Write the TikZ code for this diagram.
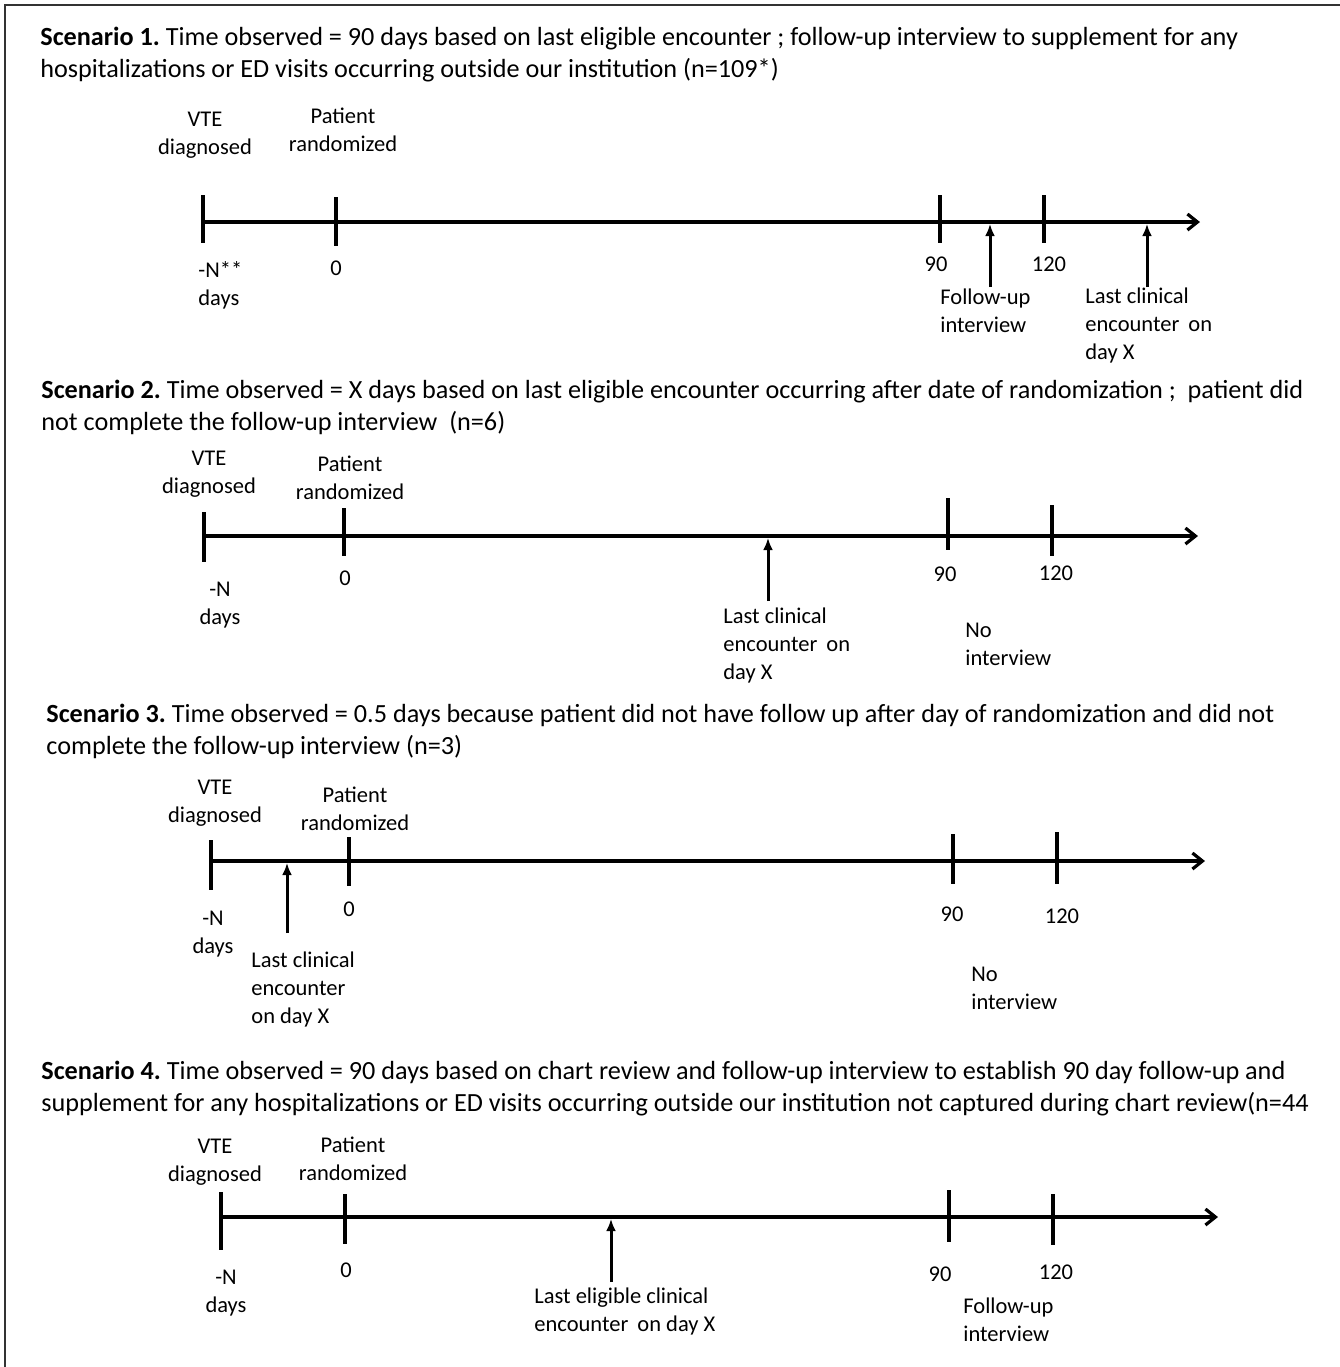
\documentclass[tikz,border=0pt]{standalone}
\usepackage{fontspec}
\setmainfont{Carlito}
\usetikzlibrary{arrows.meta}
\frenchspacing

\begin{document}
\begin{tikzpicture}[x=0.5pt,y=-0.5pt,
  axis/.style={line width=1.6pt,-{Straight Barb[length=5pt,width=8pt,line width=1.6pt]}},
  tick/.style={line width=1.6pt},
  uparrow/.style={line width=1.5pt,-{Latex[length=6pt,width=5pt]}},
  title/.style={anchor=west,align=left,inner sep=0pt,font=\fontsize{13.1}{16}\selectfont},
  lbl/.style={inner sep=0pt,align=center,font=\fontsize{11.25}{14}\selectfont},
  lbll/.style={lbl,anchor=west,align=left}]
\useasboundingbox (0,0) rectangle (1340,1367);
\draw[line width=0.9pt,black!80] (5,1367)--(5,5)--(1340,5);

\node[title] (t1) at (40,55) {\textbf{Scenario 1.} Time observed = 90 days based on last eligible encounter ; follow-up interview to supplement for any\\hospitalizations or ED visits occurring outside our institution (n=109*)};
\node[lbl] (v1) at (205,135) {VTE\\diagnosed};
\node[lbl] (p1) at (343,130) {Patient\\randomized};
\coordinate (a1) at (203,222);
\coordinate (e1) at (1200,222);
\draw[axis] (a1) -- (e1);
\draw[tick] (203,195) -- (203,243);
\draw[tick] (336,197) -- (336,246);
\draw[tick] (940,195) -- (940,243);
\draw[tick] (1044,195) -- (1044,243);
\node[lbll] (n1) at (198,285) {-N**\\days};
\node[lbl] (z1) at (336,268) {0};
\node[lbl] (k1) at (936,264) {90};
\node[lbl] (h1) at (1049,264) {120};
\coordinate (fb1) at (990,287);
\coordinate (ft1) at (990,224);
\draw[uparrow] (fb1) -- (ft1);
\coordinate (lb1) at (1147,287);
\coordinate (lt1) at (1147,224);
\draw[uparrow] (lb1) -- (lt1);
\node[lbll] (f1) at (940,311) {Follow-up\\interview};
\node[lbll] (l1) at (1085,325) {Last clinical\\encounter\kern2pt\ on\\day X};

\node[title] (t2) at (41,407) {\textbf{Scenario 2.} Time observed = X days based on last eligible encounter occurring after date of randomization ;\ \ patient did\\not complete the follow-up interview\ \ (n=6)};
\node[lbl] (v2) at (209,474) {VTE\\diagnosed};
\node[lbl] (p2) at (350,478) {Patient\\randomized};
\coordinate (a2) at (204,536);
\coordinate (e2) at (1198,536);
\draw[axis] (a2) -- (e2);
\draw[tick] (204,512) -- (204,562);
\draw[tick] (344,508) -- (344,556);
\draw[tick] (948,498) -- (948,550);
\draw[tick] (1052,505) -- (1052,556);
\node[lbl] (n2) at (220,605) {-N\\days};
\node[lbl] (z2) at (345,578) {0};
\node[lbl] (k2) at (945,574) {90};
\node[lbl] (h2) at (1056,573) {120};
\coordinate (lb2) at (768,601);
\coordinate (lt2) at (768,538);
\draw[uparrow] (lb2) -- (lt2);
\node[lbll] (l2) at (723,645) {Last clinical\\encounter\kern2pt\ on\\day X};
\node[lbll] (o2) at (965,644) {No\\interview};

\node[title] (t3) at (46,731) {\textbf{Scenario 3.} Time observed = 0.5 days because patient did not have follow up after day of randomization and did not\\complete the follow-up interview (n=3)};
\node[lbl] (v3) at (215,803) {VTE\\diagnosed};
\node[lbl] (p3) at (355,809) {Patient\\randomized};
\coordinate (a3) at (211,861);
\coordinate (e3) at (1205,861);
\draw[axis] (a3) -- (e3);
\draw[tick] (211,840) -- (211,890);
\draw[tick] (349,837) -- (349,886);
\draw[tick] (953,834) -- (953,884);
\draw[tick] (1057,832) -- (1057,884);
\node[lbl] (n3) at (213,934) {-N\\days};
\node[lbl] (z3) at (349,909) {0};
\node[lbl] (k3) at (952,914) {90};
\node[lbl] (h3) at (1062,916) {120};
\coordinate (lb3) at (287,933);
\coordinate (lt3) at (287,863);
\draw[uparrow] (lb3) -- (lt3);
\node[lbll] (l3) at (251,989) {Last clinical\\encounter\\on day X};
\node[lbll] (o3) at (971,988) {No\\interview};

\node[title] (t4) at (41,1089) {\textbf{Scenario 4.} Time observed = 90 days based on chart review and follow-up interview to establish 90 day follow-up and\\supplement for any hospitalizations or ED visits occurring outside our institution not captured during chart review(n=44};
\node[lbl] (v4) at (215,1162) {VTE\\diagnosed};
\node[lbl] (p4) at (353,1159) {Patient\\randomized};
\coordinate (a4) at (221,1217);
\coordinate (e4) at (1218,1217);
\draw[axis] (a4) -- (e4);
\draw[tick] (221,1192) -- (221,1250);
\draw[tick] (345,1194) -- (345,1244);
\draw[tick] (949,1190) -- (949,1242);
\draw[tick] (1053,1194) -- (1053,1245);
\node[lbl] (n4) at (226,1293) {-N\\days};
\node[lbl] (z4) at (346,1270) {0};
\node[lbl] (k4) at (940,1274) {90};
\node[lbl] (h4) at (1056,1272) {120};
\coordinate (lb4) at (611,1282);
\coordinate (lt4) at (611,1219);
\draw[uparrow] (lb4) -- (lt4);
\node[lbll] (l4) at (534,1311) {Last eligible clinical\\encounter\kern2pt\ on day X};
\node[lbll] (f4) at (963,1320) {Follow-up\\interview};
\end{tikzpicture}
\end{document}
